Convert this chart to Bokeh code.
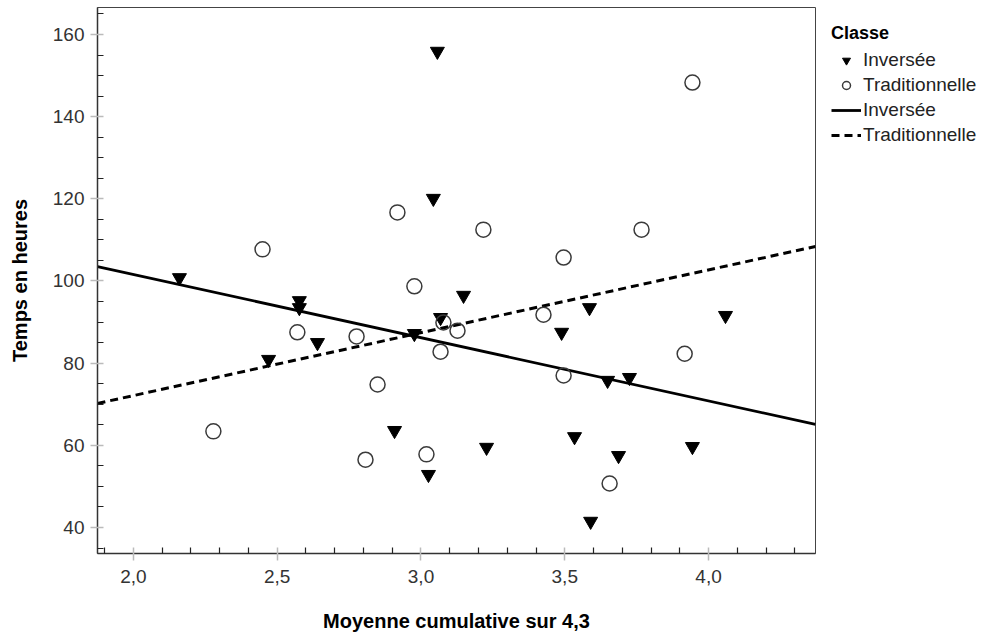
from bokeh.plotting import figure
from bokeh.models import FixedTicker, Legend, LegendItem, Range1d
from bokeh.embed import file_html
from bokeh.resources import INLINE

# ---- data ----
INV_X = [2.160, 2.577, 2.577, 2.470, 2.640, 3.057, 3.043, 3.068, 3.148, 2.908, 3.026,
         3.228, 3.489, 3.586, 3.534, 3.590, 3.649, 3.725, 3.687, 3.944, 4.059, 2.977]
INV_Y = [100.8, 95.2, 93.5, 80.9, 85.0, 155.9, 120.1, 91.1, 96.5, 63.6, 52.9,
         59.5, 87.5, 93.5, 62.1, 41.5, 75.8, 76.5, 57.5, 59.7, 91.6, 87.2]
TRAD_X = [2.278, 2.449, 2.570, 2.776, 2.849, 2.918, 2.977, 2.807, 3.019, 3.078,
          3.127, 3.068, 3.217, 3.426, 3.496, 3.496, 3.767, 3.656, 3.917, 3.944]
TRAD_Y = [63.4, 107.7, 87.5, 86.5, 74.8, 116.7, 98.7, 56.5, 57.8, 89.9,
          87.9, 82.8, 112.5, 91.8, 105.7, 77.0, 112.5, 50.7, 82.3, 148.3]
FIT_X = [1.875, 4.372]
INV_FIT_Y = [103.5, 65.1]
TRAD_FIT_Y = [70.2, 108.4]

X_TICKS = [2.0, 2.5, 3.0, 3.5, 4.0]
X_TICK_LABELS = ["2,0", "2,5", "3,0", "3,5", "4,0"]
X_MINOR = [1.9, 2.1, 2.2, 2.3, 2.4, 2.6, 2.7, 2.8, 2.9, 3.1, 3.2, 3.3, 3.4,
           3.6, 3.7, 3.8, 3.9, 4.1, 4.2, 4.3]
Y_TICKS = [40, 60, 80, 100, 120, 140, 160]
Y_MINOR = [35, 45, 50, 55, 65, 70, 75, 85, 90, 95, 105, 110, 115, 125, 130, 135,
           145, 150, 155, 165]

X_TITLE = "Moyenne cumulative sur 4,3"
Y_TITLE = "Temps en heures"
LEGEND_TITLE = "Classe"
SERIES = ["Inversée", "Traditionnelle"]

FONT = "Liberation Sans"

p = figure(frame_width=718, frame_height=546, output_backend="svg", toolbar_location=None,
           x_range=Range1d(FIT_X[0], FIT_X[1]), y_range=Range1d(33.67, 166.57),
           min_border_left=97, min_border_right=0, min_border_top=7, min_border_bottom=84)
p.grid.visible = False
p.background_fill_color = "white"
p.border_fill_color = "white"
p.outline_line_color = "#444444"
p.outline_line_width = 1

r_inv_line = p.line(FIT_X, INV_FIT_Y, line_color="black", line_width=2.8)
r_trad_line = p.line(FIT_X, TRAD_FIT_Y, line_color="black", line_width=3, line_dash="8 5")
r_tri = p.scatter(INV_X, INV_Y, marker="inverted_triangle", size=14,
                  fill_color="black", line_color="black")
r_circ = p.scatter(TRAD_X, TRAD_Y, marker="circle", size=15,
                   fill_alpha=0, line_color="#3a3a3a", line_width=1.5)

for ax, ticks, minor in ((p.xaxis[0], X_TICKS, X_MINOR), (p.yaxis[0], Y_TICKS, Y_MINOR)):
    ax.ticker = FixedTicker(ticks=ticks, minor_ticks=minor)
    ax.axis_line_color = "#333333"
    ax.axis_line_width = 1.5
    ax.major_tick_in = 6
    ax.major_tick_out = 7
    ax.major_tick_line_color = "#bbbbbb"
    ax.major_tick_line_width = 1.5
    ax.minor_tick_in = 6
    ax.minor_tick_out = 0
    ax.minor_tick_line_color = "#222222"
    ax.minor_tick_line_width = 1.2
    ax.major_label_text_font = FONT
    ax.major_label_text_font_size = "19px"
    ax.major_label_text_color = "#333333"
    ax.axis_label_text_font = FONT
    ax.axis_label_text_font_size = "20px"
    ax.axis_label_text_font_style = "bold"
    ax.axis_label_text_color = "black"

p.xaxis[0].major_label_overrides = {t: l for t, l in zip(X_TICKS, X_TICK_LABELS)}
p.xaxis[0].axis_label = X_TITLE
p.xaxis[0].major_label_standoff = 9
p.xaxis[0].axis_label_standoff = 24
p.yaxis[0].axis_label = Y_TITLE
p.yaxis[0].major_label_standoff = 6
p.yaxis[0].axis_label_standoff = 19

legend = Legend(items=[LegendItem(label=SERIES[0], renderers=[r_tri]),
                       LegendItem(label=SERIES[1], renderers=[r_circ]),
                       LegendItem(label=SERIES[0], renderers=[r_inv_line]),
                       LegendItem(label=SERIES[1], renderers=[r_trad_line])],
                title=LEGEND_TITLE, title_text_font=FONT, title_text_font_size="18px",
                title_text_font_style="bold", title_text_color="black", title_standoff=5,
                location="top_left", padding=9, spacing=3, margin=7,
                glyph_width=30, glyph_height=20, label_height=20, label_standoff=2,
                label_text_font=FONT, label_text_font_size="19px",
                label_text_color="#222222",
                border_line_alpha=0, background_fill_alpha=0)
p.add_layout(legend, "right")

open("out.html", "w").write(file_html(p, INLINE))
